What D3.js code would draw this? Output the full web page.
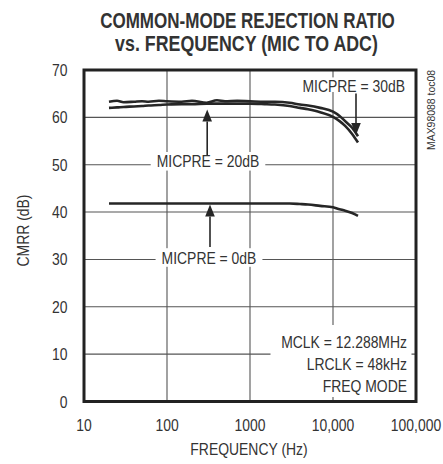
<!DOCTYPE html>
<html><head><meta charset="utf-8">
<script src="https://cdn.jsdelivr.net/npm/d3@7"></script>
<style>
html,body{margin:0;padding:0;background:#fff;}
svg{display:block;}
text{font-family:"Liberation Sans Narrow","Liberation Sans",Arial,sans-serif;fill:#333;}
</style></head>
<body>
<svg id="c" width="443" height="464"></svg>
<script>
// ---- data ----
const freqs = [20, 25, 30, 40, 50, 60, 80, 100, 150, 200, 300, 400, 500, 700, 1000, 1500, 2000, 3000, 4000, 5000, 7000, 10000, 12000, 14000, 17000, 20000];
const cmrr30dB = [63.3, 63.5, 63.2, 63.3, 63.4, 63.3, 63.5, 63.4, 63.3, 63.5, 63.1, 63.6, 63.4, 63.5, 63.4, 63.3, 63.3, 63.1, 62.7, 62.5, 62.0, 61.2, 60.3, 59.2, 57.8, 56.0];
const cmrr20dB = [62.0, 62.1, 62.2, 62.3, 62.4, 62.5, 62.6, 62.7, 62.8, 62.8, 62.9, 62.9, 62.9, 62.9, 62.9, 62.8, 62.7, 62.4, 62.0, 61.7, 61.1, 60.1, 59.2, 58.2, 56.5, 54.7];
const cmrr0dB  = [41.8, 41.8, 41.8, 41.8, 41.8, 41.8, 41.8, 41.8, 41.8, 41.8, 41.8, 41.8, 41.8, 41.8, 41.8, 41.8, 41.8, 41.8, 41.7, 41.6, 41.3, 41.0, 40.6, 40.3, 39.8, 39.2];
const xTicks = [10, 100, 1000, 10000, 100000];
const xTickLabels = ["10", "100", "1000", "10,000", "100,000"];
const yTicks = [0, 10, 20, 30, 40, 50, 60, 70];
const titleLines = ["COMMON-MODE REJECTION RATIO", "vs. FREQUENCY (MIC TO ADC)"];
const xTitle = "FREQUENCY (Hz)";
const yTitle = "CMRR (dB)";
const seriesLabels = ["MICPRE = 30dB", "MICPRE = 20dB", "MICPRE = 0dB"];
const condLabels = ["MCLK = 12.288MHz", "LRCLK = 48kHz", "FREQ MODE"];
const docId = "MAX98088 toc08";

// ---- layout ----
const svg = d3.select("#c");
const L = 84, R = 416, T = 70, B = 401.5;
const x = d3.scaleLog().domain([10, 100000]).range([L, R]);
const y = d3.scaleLinear().domain([0, 70]).range([B, T]);
const ink = "#262626";
const SX = 0.82; // narrow emulation

function txt(g, str, xx, yy, anchor, size, rot, sx) {
  const t = g.append("text")
    .attr("transform", `translate(${xx},${yy})` + (rot ? ` rotate(${rot})` : "") + ` scale(${sx || SX},1)`)
    .attr("text-anchor", anchor).attr("font-size", size).text(str);
  return t;
}
function fitTitle(str, cx, yy, width) {
  const t = svg.append("text").attr("text-anchor", "middle").attr("font-weight", "bold")
    .attr("font-size", 22).attr("fill", "#222").text(str);
  const w = t.node().getComputedTextLength();
  t.attr("transform", `translate(${cx},${yy}) scale(${width / w},1)`);
}

// title
fitTitle(titleLines[0], 247.5, 28, 295);
fitTitle(titleLines[1], 246.5, 51, 263);

// grid
const grid = svg.append("g").attr("stroke", "#555").attr("stroke-width", 1.1);
xTicks.slice(1, -1).forEach(t => grid.append("line").attr("x1", x(t)).attr("x2", x(t)).attr("y1", T).attr("y2", B));
yTicks.slice(1, -1).forEach(t => grid.append("line").attr("x1", L).attr("x2", R).attr("y1", y(t)).attr("y2", y(t)));

// tick labels
const tg = svg.append("g");
yTicks.forEach(d => txt(tg, String(d), 67.5, y(d) + 6, "end", 17));
xTicks.forEach((d, i) => txt(tg, xTickLabels[i], x(d), 431, "middle", 17));

// axis titles
txt(svg, xTitle, 249, 455, "middle", 17);
txt(svg, yTitle, 28.5, 230.5, "middle", 17, -90);

// doc id
svg.append("text").attr("transform", "translate(435,110) rotate(-90)").attr("text-anchor", "middle")
  .attr("font-size", 11).attr("textLength", 80).attr("lengthAdjust", "spacingAndGlyphs").text(docId);

// label boxes + labels
const boxes = svg.append("g");
const labels = svg.append("g");
function label(str, xx, yy, anchor, padX, padT, padB) {
  const t = txt(labels, str, xx, yy, anchor, 17);
  const bb = t.node().getBBox();
  boxes.append("rect").attr("x", xx + bb.x * SX - padX).attr("y", yy + bb.y - padT)
    .attr("width", bb.width * SX + 2 * padX)
    .attr("height", bb.height + padT + padB).attr("fill", "#fff");
  return t;
}
label(seriesLabels[0], 405, 91.7, "end", 2, -1, -3);
label(seriesLabels[1], 208, 167.3, "middle", 6, 0, 0);
label(seriesLabels[2], 209, 263.5, "middle", 6, 0, 0);
const cb = [348.3, 370, 391.7];
condLabels.forEach((c, i) => txt(labels, c, 407, cb[i], "end", 17));
boxes.append("rect").attr("x", 270.5).attr("y", 325).attr("width", 141).attr("height", 72).attr("fill", "#fff");

// curves
const line = d3.line().x((d, i) => x(freqs[i])).y(d => y(d)).curve(d3.curveMonotoneX);
[cmrr30dB, cmrr20dB, cmrr0dB].forEach(s => {
  svg.append("path").attr("d", line(s)).attr("fill", "none").attr("stroke", ink).attr("stroke-width", 2.6);
});

// arrows
function arrow(f, v0, v1) {
  const xx = x(f), y0 = y(v0), y1 = y(v1);
  const dir = y1 < y0 ? 1 : -1;
  const hb = y1 + dir * 12;
  svg.append("line").attr("x1", xx).attr("x2", xx).attr("y1", y0).attr("y2", hb).attr("stroke", ink).attr("stroke-width", 1.6);
  svg.append("path").attr("d", `M${xx},${y1}L${xx - 4.8},${hb}L${xx + 4.8},${hb}Z`).attr("fill", ink);
}
arrow(305, y.invert(155), y.invert(109.5));
arrow(x.invert(356), y.invert(93.5), y.invert(135));
arrow(x.invert(210), y.invert(247), y.invert(204.5));

// frame
svg.append("rect").attr("x", L).attr("y", T).attr("width", R - L).attr("height", B - T)
  .attr("fill", "none").attr("stroke", "#222").attr("stroke-width", 3);
</script>
</body></html>
